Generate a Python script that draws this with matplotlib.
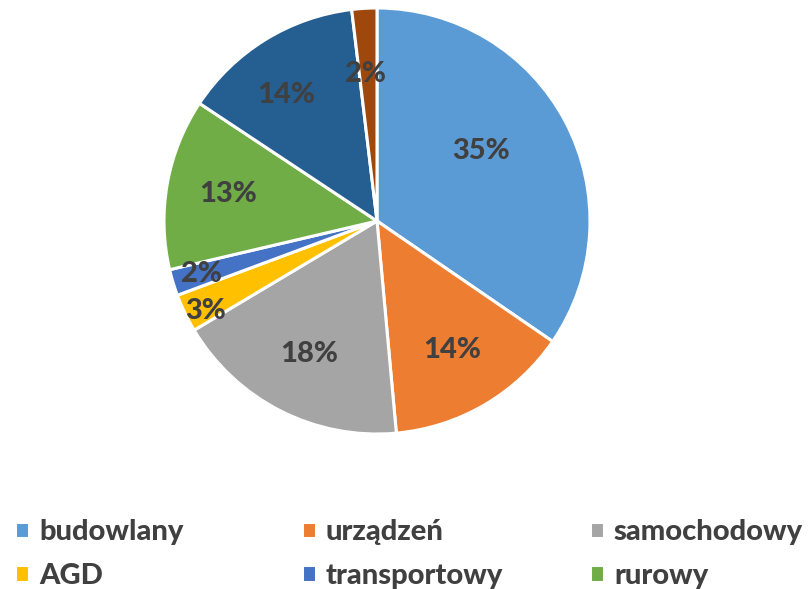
import numpy as np
import matplotlib.pyplot as plt

categories = ['budowlany', 'urządzeń', 'samochodowy', 'AGD', 'transportowy',
              'rurowy', 'inny 1', 'inny 2']
shares = [34.6, 14.0, 17.9, 2.9, 2.0, 13.0, 13.8, 1.9]
colors = ['#5B9BD5', '#ED7D31', '#A5A5A5', '#FFC000', '#4472C4',
          '#70AD47', '#255E91', '#9E480E']
# label distance from the centre (fraction of radius) and turn in degrees
label_dist = [0.59, 0.70, 0.70, 0.91, 0.86, 0.71, 0.73, 0.69]
label_turn = [6, 0, 0, 2, 0, 0, 4, 1]
# legend columns as in the original: three columns, two rows
legend_cols = [[0, 3], [1, 4], [2, 5]]
legend_x = [15, 302, 590]

txt_color = '#404040'
font = ['Lato', 'DejaVu Sans']

fig = plt.figure(figsize=(8.10, 5.89), dpi=100)
cx, cy, r = 377, 221, 213
ax = fig.add_axes([(cx - r) / 810, 1 - (cy + r) / 589, 2 * r / 810, 2 * r / 589])

wedges, texts, autotexts = ax.pie(
    shares, colors=colors, startangle=90, counterclock=False,
    autopct='%.0f%%', pctdistance=0.7,
    wedgeprops=dict(edgecolor='white', linewidth=2.2),
    textprops=dict(color=txt_color, fontsize=21, fontweight='black', family=font))

for w, t, d, turn in zip(wedges, autotexts, label_dist, label_turn):
    ang = np.deg2rad((w.theta1 + w.theta2) / 2 + turn)
    t.set_position((d * np.cos(ang), d * np.sin(ang)))

ax.set_xlim(-1, 1)
ax.set_ylim(-1, 1)

for idx, x in zip(legend_cols, legend_x):
    leg = fig.legend([wedges[i] for i in idx], [categories[i] for i in idx],
                     loc='center left', bbox_to_anchor=(x / 810, 1 - 554 / 589),
                     frameon=False, borderpad=0, borderaxespad=0,
                     handlelength=0.48, handleheight=0.48,
                     handletextpad=0.34, labelspacing=0.6,
                     prop=dict(family=font, weight='black', size=21))
    for t in leg.get_texts():
        t.set_color(txt_color)

fig.savefig('out.png', dpi=100)
